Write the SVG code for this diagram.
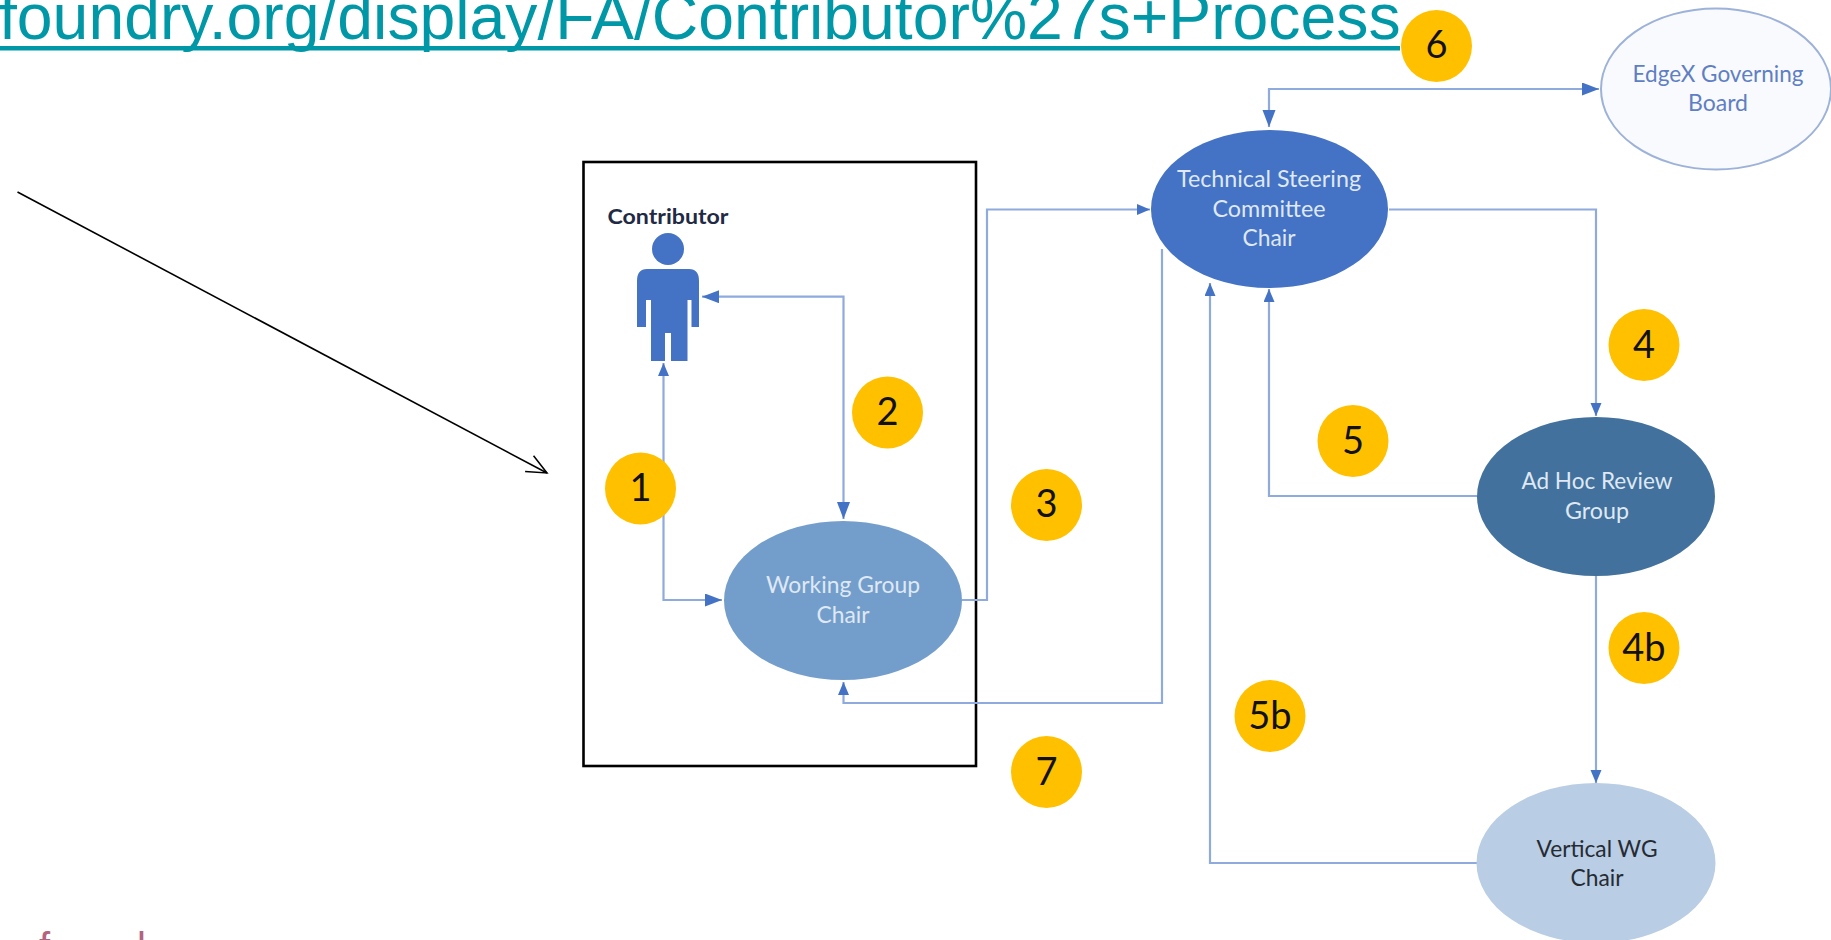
<svg xmlns="http://www.w3.org/2000/svg" width="1831" height="940" viewBox="0 0 1831 940">
<style>
.url{font-family:"Liberation Sans",Arial,sans-serif;font-size:64.3px;fill:#0097a7}
.t{font-family:Lato,"Open Sans",sans-serif;font-size:23px;text-anchor:middle}
.w{fill:#dfe8f4}
.d{fill:#262b33}
.b{fill:#5f7fc4}
.n{font-family:Lato,"Open Sans",sans-serif;font-size:38px;text-anchor:middle;fill:#111}
.y{fill:#ffc000}
.c{fill:none;stroke:#8faadc;stroke-width:2.2}
.f{font-family:"Liberation Sans",sans-serif;font-size:40px;fill:#b4637e}
</style>
<defs>
<marker id="as" markerUnits="userSpaceOnUse" markerWidth="14" markerHeight="12" refX="13" refY="5.5" orient="auto-start-reverse"><path d="M0 0L13 5.5L0 11Z" fill="#4472c4"/></marker>
<marker id="al" markerUnits="userSpaceOnUse" markerWidth="18" markerHeight="14" refX="17" refY="6.5" orient="auto-start-reverse"><path d="M0 0L17 6.5L0 13Z" fill="#4472c4"/></marker>
<marker id="op" markerUnits="userSpaceOnUse" markerWidth="24" markerHeight="22" refX="22" refY="11" orient="auto"><path d="M2 2L22 11L2 20" fill="none" stroke="#000" stroke-width="1.5"/></marker>
</defs>
<rect width="1831" height="940" fill="#fff"/>
<g id="url-text"><text class="url" x="-1" y="39">foundry.org/display/FA/Contributor%27s+Process</text><rect x="0" y="46" width="1400" height="4.5" fill="#0097a7"/></g>
<g id="footer-text"><text class="f" x="39" y="961">f</text><text class="f" x="137" y="961">l</text></g>
<line id="pointer-arrow" x1="17.5" y1="192" x2="547" y2="473" stroke="#000" stroke-width="1.6" marker-end="url(#op)"/>
<rect id="contributor-box" x="583.5" y="162" width="392.5" height="604" fill="none" stroke="#000" stroke-width="2.6"/>
<g id="connectors">
<path class="c" d="M722 600H663.5V363" marker-start="url(#al)" marker-end="url(#as)"/>
<path class="c" d="M702 296.7H843.5V519" marker-start="url(#al)" marker-end="url(#al)"/>
<path class="c" d="M962 600H987V209.5H1150" marker-end="url(#as)"/>
<path class="c" d="M1389 209.5H1596V416" marker-end="url(#as)"/>
<path class="c" d="M1477 496H1269V289" marker-end="url(#as)"/>
<path class="c" d="M1477 863H1210V283" marker-end="url(#as)"/>
<path class="c" d="M1162 249V703H843.5V682" marker-end="url(#as)"/>
<path class="c" d="M1269 127V89H1599" marker-start="url(#al)" marker-end="url(#al)"/>
<path class="c" d="M1596 576V783" marker-end="url(#as)"/>
</g>
<g id="contributor"><text x="668" y="224" font-family="Lato,sans-serif" font-weight="700" font-size="21" text-anchor="middle" fill="#1f2a44" textLength="121" lengthAdjust="spacingAndGlyphs">Contributor</text>
<ellipse cx="668" cy="249" rx="16" ry="16" fill="#4472c4"/>
<path d="M647 269H689Q699 269 699 281V327H691.5V300H687.5V361H671V333H665V361H651V300H646V327H637V281Q637 269 647 269Z" fill="#4472c4"/></g>
<g id="working-group-chair"><ellipse cx="843" cy="600.5" rx="119" ry="79.5" fill="#739ecb"/><text class="t w" x="843" y="593" textLength="154" lengthAdjust="spacingAndGlyphs">Working Group</text><text class="t w" x="843" y="623" textLength="53" lengthAdjust="spacingAndGlyphs">Chair</text></g>
<g id="technical-steering-committee-chair"><ellipse cx="1269.5" cy="209" rx="118.5" ry="79" fill="#4472c4"/><text class="t w" x="1269" y="187" textLength="184" lengthAdjust="spacingAndGlyphs">Technical Steering</text><text class="t w" x="1269" y="217" textLength="113" lengthAdjust="spacingAndGlyphs">Committee</text><text class="t w" x="1269" y="246" textLength="53" lengthAdjust="spacingAndGlyphs">Chair</text></g>
<g id="edgex-governing-board"><ellipse cx="1716" cy="89" rx="115" ry="80.5" fill="#f9fafd" stroke="#9db2d8" stroke-width="2"/><text class="t b" x="1718" y="82" textLength="171" lengthAdjust="spacingAndGlyphs">EdgeX Governing</text><text class="t b" x="1718" y="111" textLength="60" lengthAdjust="spacingAndGlyphs">Board</text></g>
<g id="ad-hoc-review-group"><ellipse cx="1596" cy="496.5" rx="119" ry="79.5" fill="#41719c"/><text class="t w" x="1597" y="489" textLength="151" lengthAdjust="spacingAndGlyphs">Ad Hoc Review</text><text class="t w" x="1597" y="519" textLength="64" lengthAdjust="spacingAndGlyphs">Group</text></g>
<g id="vertical-wg-chair"><ellipse cx="1596" cy="863" rx="119.5" ry="80" fill="#b9cde5"/><text class="t d" x="1597" y="857" textLength="121" lengthAdjust="spacingAndGlyphs">Vertical WG</text><text class="t d" x="1597" y="886" textLength="53" lengthAdjust="spacingAndGlyphs">Chair</text></g>
<g id="badge-1"><ellipse class="y" cx="640.5" cy="488.5" rx="35.5" ry="36"/><text class="n" x="640.5" y="501">1</text></g>
<g id="badge-2"><ellipse class="y" cx="887.5" cy="412.5" rx="35.5" ry="36"/><text class="n" x="887.5" y="425">2</text></g>
<g id="badge-3"><ellipse class="y" cx="1046.5" cy="505" rx="35.5" ry="36"/><text class="n" x="1046.5" y="517">3</text></g>
<g id="badge-4"><ellipse class="y" cx="1644" cy="345" rx="35.5" ry="36"/><text class="n" x="1644" y="358">4</text></g>
<g id="badge-4b"><ellipse class="y" cx="1644" cy="648" rx="35.5" ry="36"/><text class="n" x="1644" y="661">4b</text></g>
<g id="badge-5"><ellipse class="y" cx="1353" cy="441" rx="35.5" ry="36"/><text class="n" x="1353" y="454">5</text></g>
<g id="badge-5b"><ellipse class="y" cx="1270" cy="716" rx="35.5" ry="36"/><text class="n" x="1270" y="729">5b</text></g>
<g id="badge-6"><ellipse class="y" cx="1436.5" cy="46" rx="35.5" ry="36"/><text class="n" x="1436.5" y="58">6</text></g>
<g id="badge-7"><ellipse class="y" cx="1046.5" cy="772" rx="35.5" ry="36"/><text class="n" x="1046.5" y="785">7</text></g>
</svg>
